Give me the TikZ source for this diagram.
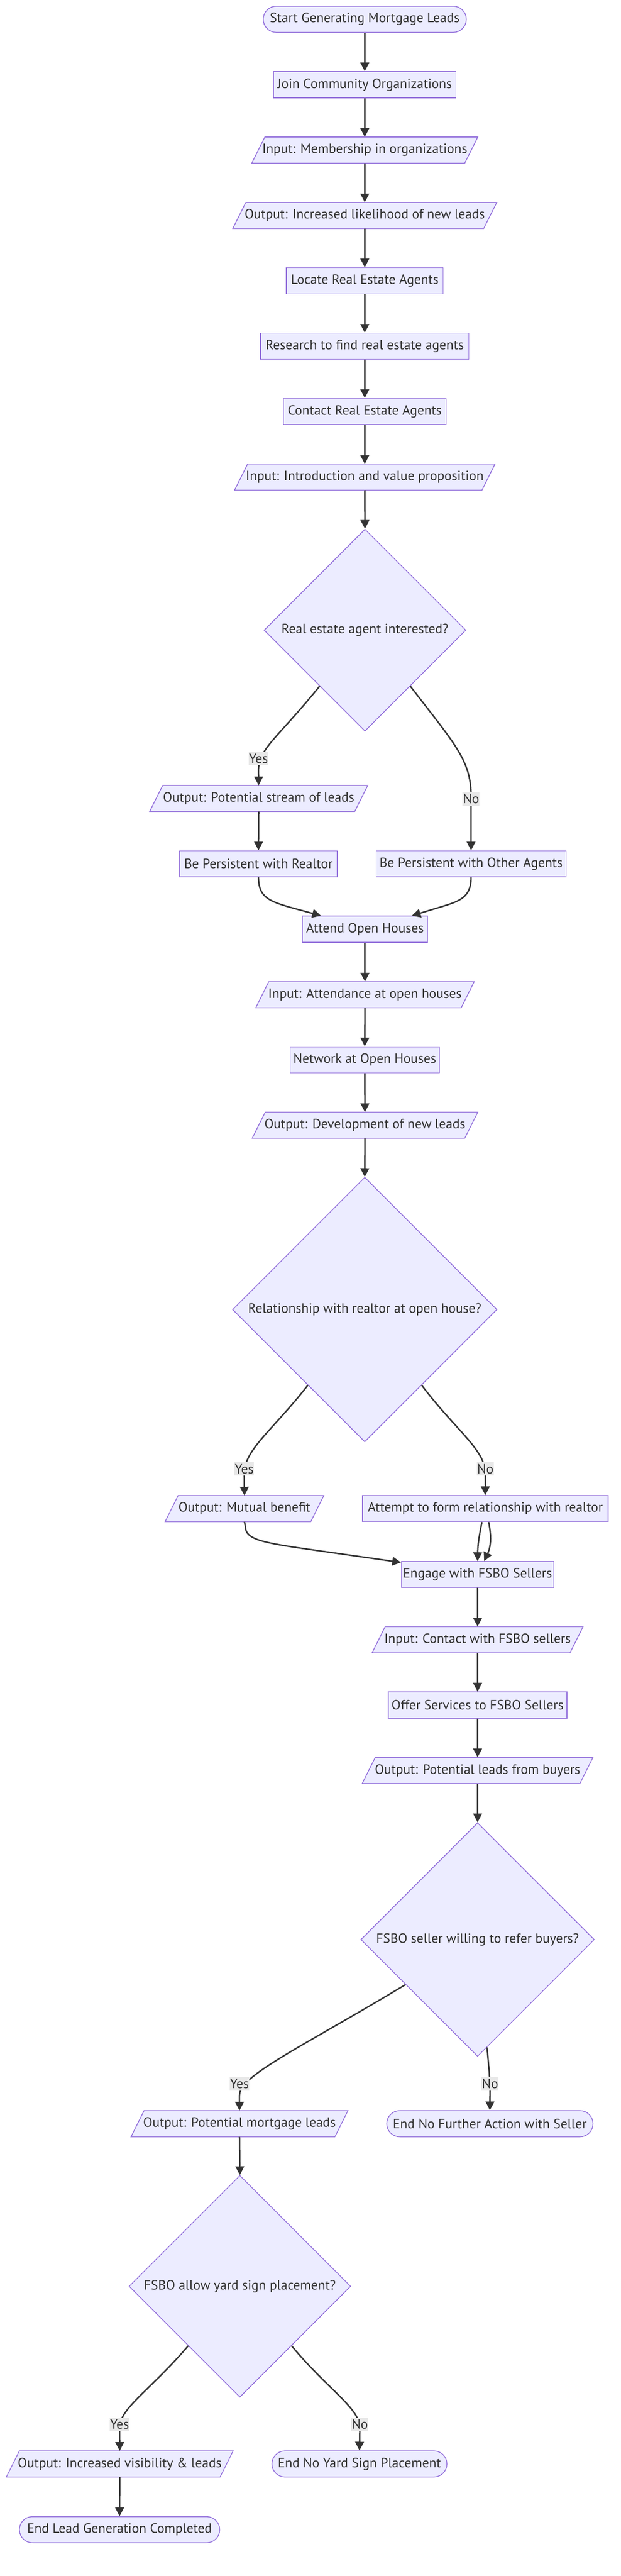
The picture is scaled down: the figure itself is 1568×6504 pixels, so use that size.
\documentclass[tikz,border=0pt]{standalone}
\usepackage{fontspec}
\setmainfont{PT Sans}
\usetikzlibrary{arrows.meta,shapes.geometric}
\definecolor{nfill}{HTML}{ECECFF}
\definecolor{nstroke}{HTML}{9370DB}
\definecolor{txt}{HTML}{333333}
\definecolor{ecol}{HTML}{333333}
\definecolor{lblbg}{HTML}{E8E8E8}
\tikzset{
  base/.style={font=\fontsize{34}{40}\selectfont, text=txt, minimum height=66pt, inner sep=0pt},
  proc/.style={base, rectangle, draw=nstroke, fill=nfill, line width=2pt},
  term/.style={proc, rounded corners=32.9pt},
  paratext/.style={base, rectangle},
  parashape/.style={draw=nstroke, fill=nfill, line width=2pt},
  decision/.style={base, diamond, aspect=1, draw=nstroke, fill=nfill, line width=2pt},
  edge/.style={draw=ecol, line width=3.6pt, -{Triangle[length=22pt,width=22pt]}},
  lbl/.style={base, minimum height=34pt, fill=lblbg, inner xsep=1pt},
}
\newcommand{\mypara}[5]{%
  \path[parashape] ({#2-#4/2},{#3+33}) -- ({#2-#4/2+33},{#3-33}) -- ({#2+#4/2},{#3-33}) -- ({#2+#4/2-33},{#3+33}) -- cycle;
  \node[paratext, minimum width={(#4-33)*1pt}] (#1) at (#2,#3) {#5};%
}
\begin{document}
\begin{tikzpicture}[x=1pt,y=-1pt]
\useasboundingbox (0,0) rectangle (1568,6504);
\fill[white] (0,0) rectangle (1568,6504);

% ---- nodes ----
\node[term, minimum width=513pt] (start) at (921.5,48.7) {Start Generating Mortgage Leads};
\node[proc, minimum width=461pt] (join) at (921.5,214) {Join Community Organizations};
\mypara{inMember}{921.5}{379}{571}{Input: Membership in organizations}
\mypara{outLikely}{921.5}{544}{667}{Output: Increased likelihood of new leads}
\node[proc, minimum width=396pt] (locate) at (921.5,709) {Locate Real Estate Agents};
\node[proc, minimum width=526pt] (research) at (921.5,874) {Research to find real estate agents};
\node[proc, minimum width=411pt] (contact) at (921.5,1039) {Contact Real Estate Agents};
\mypara{inIntro}{921.5}{1204.5}{658}{Input: Introduction and value proposition}
\node[decision, minimum width=510pt, minimum height=510pt] (dia1) at (922,1591) {Real estate agent interested?};
\mypara{outStream}{653.5}{2016}{551}{Output: Potential stream of leads}
\node[proc, minimum width=398pt] (persistR) at (653,2181) {Be Persistent with Realtor};
\node[proc, minimum width=480pt] (persistO) at (1190,2181) {Be Persistent with Other Agents};
\node[proc, minimum width=316pt] (attend) at (922,2346) {Attend Open Houses};
\mypara{inAttend}{922}{2511.5}{552}{Input: Attendance at open houses}
\node[proc, minimum width=377pt] (network) at (921.5,2676) {Network at Open Houses};
\mypara{outDev}{922}{2841}{570}{Output: Development of new leads}
\node[decision, minimum width=668pt, minimum height=668pt] (dia2) at (921.5,3306.5) {Relationship with realtor at open house?};
\mypara{outMutual}{617.5}{3809}{401}{Output: Mutual benefit}
\node[proc, minimum width=620pt] (attempt) at (1226,3809) {Attempt to form relationship with realtor};
\node[proc, minimum width=385pt] (engage) at (1206.5,3975.5) {Engage with FSBO Sellers};
\mypara{inContact}{1206.5}{4140}{533}{Input: Contact with FSBO sellers}
\node[proc, minimum width=451pt] (offer) at (1206.5,4305) {Offer Services to FSBO Sellers};
\mypara{outBuyers}{1206.5}{4470}{583}{Output: Potential leads from buyers}
\node[decision, minimum width=590pt, minimum height=590pt] (dia3) at (1206.5,4897) {FSBO seller willing to refer buyers?};
\mypara{outMortgage}{605}{5362}{548}{Output: Potential mortgage leads}
\node[term, minimum width=521pt] (endNF) at (1237.5,5362) {End No Further Action with Seller};
\node[decision, minimum width=560pt, minimum height=560pt] (dia4) at (606,5772.5) {FSBO allow yard sign placement?};
\mypara{outVis}{302.5}{6221}{573}{Output: Increased visibility \& leads}
\node[term, minimum width=442pt] (endNY) at (908,6221) {End No Yard Sign Placement};
\node[term, minimum width=506pt] (endDone) at (302,6387) {End Lead Generation Completed};

% ---- straight edges ----
\draw[edge] (start.south) -- (join.north);
\draw[edge] (join.south) -- (inMember.north);
\draw[edge] (inMember.south) -- (outLikely.north);
\draw[edge] (outLikely.south) -- (locate.north);
\draw[edge] (locate.south) -- (research.north);
\draw[edge] (research.south) -- (contact.north);
\draw[edge] (contact.south) -- (inIntro.north);
\draw[edge] (inIntro.south) -- (dia1.north);
\draw[edge] (outStream.south) -- (persistR.north);
\draw[edge] (attend.south) -- (inAttend.north);
\draw[edge] (inAttend.south) -- (network.north);
\draw[edge] (network.south) -- (outDev.north);
\draw[edge] (outDev.south) -- (dia2.north);
\draw[edge] (engage.south) -- (inContact.north);
\draw[edge] (inContact.south) -- (offer.north);
\draw[edge] (offer.south) -- (outBuyers.north);
\draw[edge] (outBuyers.south) -- (dia3.north);
\draw[edge] (outMortgage.south) -- (dia4.north);
\draw[edge] (outVis.south) -- (endDone.north);

% ---- curved edges ----
\draw[edge] (dia1.-129) .. controls (700,1865) and (653,1890) .. (653,1945) -- (outStream.north);
\draw[edge] (dia1.-51) .. controls (1150,1880) and (1190,1920) .. (1190,2010) -- (persistO.north);
\draw[edge] (persistR.south) .. controls (653,2265) and (680,2275) .. (730,2290) -- (attend.163);
\draw[edge] (persistO.south) .. controls (1190,2265) and (1163,2275) .. (1113,2290) -- (attend.16.5);

\draw[edge] (dia2.-127) .. controls (690,3610) and (617,3660) .. (617,3720) -- (outMutual.north);
\draw[edge] (dia2.-53) .. controls (1150,3610) and (1226,3660) .. (1226,3720) -- (attempt.north);
\draw[edge] (outMutual.south) -- (620,3855) .. controls (620,3885) and (660,3893) .. (740,3906) -- (engage.171.5);
\draw[edge] (attempt.-104) .. controls (1210,3880) and (1207,3900) .. (engage.north);
\draw[edge] (attempt.-76) .. controls (1242,3880) and (1240,3905) .. (engage.64.5);

\draw[edge] (dia3.-148.5) .. controls (760,5170) and (605,5240) .. (605,5290) -- (outMortgage.north);
\draw[edge] (dia3.-85) .. controls (1235,5220) and (1238,5250) .. (1238,5280) -- (endNF.north);

\draw[edge] (dia4.-131) .. controls (380,6035) and (302,6080) .. (302,6130) -- (outVis.north);
\draw[edge] (dia4.-49) .. controls (830,6035) and (909,6080) .. (909,6130) -- (endNY.north);

% ---- edge labels ----
\node[lbl] (l1y) at (653,1915) {Yes};
\node[lbl] (l1n) at (1190,2017) {No};
\node[lbl] (l2y) at (617,3709) {Yes};
\node[lbl] (l2n) at (1226,3709) {No};
\node[lbl] (l3y) at (605,5261) {Yes};
\node[lbl] (l3n) at (1238,5261) {No};
\node[lbl] (l4y) at (302,6121) {Yes};
\node[lbl] (l4n) at (909,6121) {No};
\end{tikzpicture}
\end{document}
